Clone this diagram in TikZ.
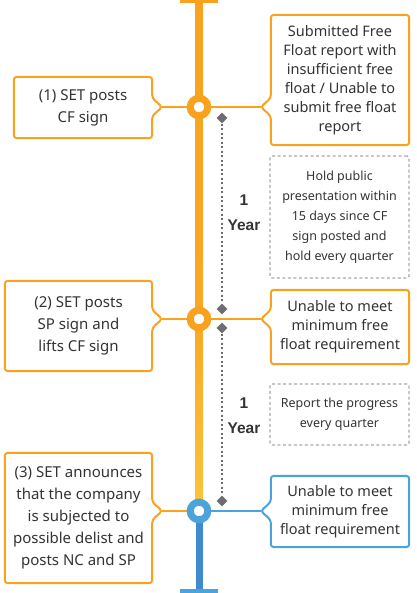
\documentclass[tikz,border=0pt]{standalone}
\usepackage{fontspec}
\setmainfont{Noto Sans}
\newfontfamily\yearfont{Liberation Sans}
\usetikzlibrary{calc,shapes.geometric}
\definecolor{orng}{HTML}{F8A21E}
\definecolor{yell}{HTML}{FCC43A}
\definecolor{blu}{HTML}{4AA4DB}
\definecolor{bludark}{HTML}{3E8CCB}
\definecolor{gry}{HTML}{6D6E71}
\definecolor{dgry}{HTML}{A7A9AC}
\definecolor{txt}{HTML}{333333}
\newcommand\ptrright[3]{%
  \draw[outline,#3] (#1.north west) -- (#1.north east) -- ($(#1.east|-#2)+(0,-9)$) -- ++(10,9) coordinate (#1tip) -- ++(-10,9) -- (#1.south east) -- (#1.south west) -- cycle;}
\newcommand\ptrleft[3]{%
  \draw[outline,#3] (#1.north east) -- (#1.south east) -- (#1.south west) -- ($(#1.west|-#2)+(0,9)$) -- ++(-10,-9) coordinate (#1tip) -- ++(10,-9) -- (#1.north west) -- cycle;}
\begin{document}
\begin{tikzpicture}[x=1pt,y=-1pt,
  box/.style={inner sep=0pt, align=center, text=txt},
  leftbox/.style={box, font=\fontsize{15}{22}\selectfont},
  rightbox/.style={box, font=\fontsize{14.5}{19}\selectfont},
  dashbox/.style={box, draw=dgry, line width=1.3pt, dash pattern=on 3pt off 2.5pt, rounded corners=2pt, font=\fontsize{12.5}{20}\selectfont},
  outline/.style={line width=2pt, rounded corners=3pt, line join=round},
  conn/.style={line width=2pt},
  ring/.style={circle, minimum size=17.6pt, inner sep=0pt, line width=7pt, fill=white},
  dmd/.style={diamond, fill=gry, minimum size=11pt, inner sep=0pt},
  dotline/.style={gry, line width=2pt, dash pattern=on 2pt off 2.5pt},
  yearlbl/.style={font=\yearfont\bfseries\fontsize{15.5}{25}\selectfont, align=center, text=txt}]
\useasboundingbox (0,0) rectangle (416,593);
% timeline
\shade[top color=orng, bottom color=orng!80!yell] (195.5,0) rectangle (202.5,319);
\shade[top color=orng!80!yell, bottom color=yell] (195.5,319) rectangle (202.5,511);
\fill[bludark] (195.5,511) rectangle (202.5,592);
\draw[orng, line width=5.5pt] (180,0) -- (218,0);
\draw[blu, line width=5.5pt] (180,592) -- (218,592);
\coordinate (p1) at (199,107);
\coordinate (p2) at (199,319);
\coordinate (p3) at (199,511);
% boxes
\node[leftbox, minimum width=138pt, minimum height=61pt] (L1) at (83,107.5) {(1) SET posts\\CF sign};
\node[rightbox, minimum width=138pt, minimum height=130pt] (R1) at (340,80) {Submitted Free\\Float report with\\insufficient free\\float / Unable to\\submit free float\\report};
\node[dashbox, minimum width=139pt, minimum height=122pt] (D1) at (339.5,217) {Hold public\\presentation within\\15 days since CF\\sign posted and\\hold every quarter};
\node[leftbox, minimum width=147pt, minimum height=90pt] (L2) at (78.5,326) {(2) SET posts\\SP sign and\\lifts CF sign};
\node[rightbox, minimum width=138pt, minimum height=74pt] (R2) at (340,327) {Unable to meet\\minimum free\\float requirement};
\node[dashbox, minimum width=139pt, minimum height=61pt] (D2) at (339.5,414.5) {Report the progress\\every quarter};
\node[leftbox, minimum width=147pt, minimum height=130pt] (L3) at (78.5,518) {(3) SET announces\\that the company\\is subjected to\\possible delist and\\posts NC and SP};
\node[rightbox, minimum width=138pt, minimum height=71pt] (R3) at (340,511.5) {Unable to meet\\minimum free\\float requirement};
\ptrright{L1}{p1}{orng}
\ptrleft{R1}{p1}{orng}
\ptrright{L2}{p2}{orng}
\ptrleft{R2}{p2}{orng}
\ptrright{L3}{p3}{orng}
\ptrleft{R3}{p3}{blu}
% connectors
\draw[conn, orng] (L1tip) -- (p1);
\draw[conn, orng] (R1tip) -- (p1);
\draw[conn, orng] (L2tip) -- (p2);
\draw[conn, orng] (R2tip) -- (p2);
\draw[conn, orng] (L3tip) -- (p3);
\draw[conn, blu] (R3tip) -- (p3);
% circles
\node[ring, draw=orng] (c1) at (p1) {};
\node[ring, draw=orng] (c2) at (p2) {};
\node[ring, draw=blu] (c3) at (p3) {};
% duration markers
\node[dmd] (d1) at (222,118) {};
\node[dmd] (d2) at (222,309) {};
\node[dmd] (d3) at (222,328) {};
\node[dmd] (d4) at (222,501) {};
\draw[dotline] (d1) -- (d2);
\draw[dotline] (d3) -- (d4);
\node[yearlbl] (y1) at (244,213) {1\\Year};
\node[yearlbl] (y2) at (244,416) {1\\Year};
\end{tikzpicture}
\end{document}
